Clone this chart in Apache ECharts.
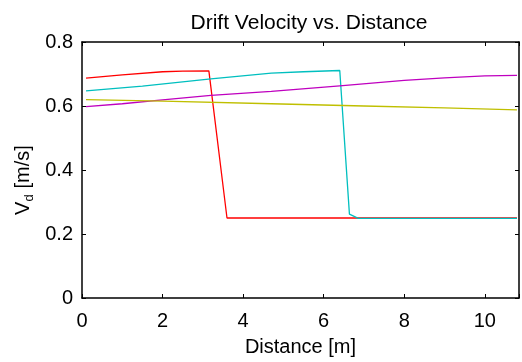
<!DOCTYPE html>
<html>
<head>
<meta charset="utf-8">
<script src="https://cdn.jsdelivr.net/npm/echarts@6/dist/echarts.min.js"></script>
<style>
  html, body { margin: 0; padding: 0; background: #fff; }
  #chart { width: 522px; height: 362px; }
</style>
</head>
<body>
<div id="chart"></div>
<script>
// 数据: [距离 m, 漂移速度 m/s]
var redData = [[0.1, 0.687], [1.0, 0.697], [2.0, 0.707], [2.5, 0.709], [3.15, 0.710], [3.6, 0.25], [6.9, 0.25], [10.8, 0.25]];
var cyanData = [[0.1, 0.647], [1.5, 0.662], [3.2, 0.685], [4.7, 0.703], [5.5, 0.707], [6.4, 0.711], [6.64, 0.262], [6.86, 0.249], [10.8, 0.249]];
var magentaData = [[0.1, 0.598], [1.0, 0.607], [2.0, 0.619], [3.2, 0.633], [4.7, 0.646], [6.4, 0.663], [8.0, 0.680], [9.0, 0.688], [10.0, 0.694], [10.8, 0.696]];
var yellowData = [[0.1, 0.620], [2.0, 0.615], [4.7, 0.607], [7.0, 0.600], [9.0, 0.594], [10.8, 0.588]];
var xTicks = [0, 2, 4, 6, 8, 10];
var yTicks = [0, 0.2, 0.4, 0.6, 0.8];

var myChart = echarts.init(document.getElementById('chart'), null, { renderer: 'canvas' });

var font = 'Liberation Sans, Arial, sans-serif';
var frameAxis = {
    show: true, onZero: false,
    lineStyle: { color: '#000', width: 1.5 }
};

var option = {
    backgroundColor: '#fff',
    animation: false,
    title: {
        text: 'Drift Velocity vs. Distance',
        left: 304, top: 8, textAlign: 'center',
        textStyle: { fontFamily: font, fontWeight: 'normal', fontSize: 21, color: '#000' }
    },
    grid: { left: 82, right: 1, top: 42, bottom: 63 },
    xAxis: [
        {
            type: 'value', min: 0, max: 10.85, interval: 2,
            axisLine: frameAxis,
            axisTick: { inside: true, length: 4, lineStyle: { color: '#000' } },
            axisLabel: {
                fontFamily: font, fontSize: 20, color: '#000', margin: 13,
                formatter: function (v) { return xTicks.indexOf(v) >= 0 ? String(v) : ''; }
            },
            splitLine: { show: false },
            name: 'Distance [m]', nameLocation: 'middle', nameGap: 39,
            nameTextStyle: { fontFamily: font, fontSize: 20, color: '#000' }
        },
        {
            type: 'value', min: 0, max: 10.85, interval: 2, position: 'top',
            axisLine: frameAxis,
            axisTick: { inside: true, length: 4, lineStyle: { color: '#000' } },
            axisLabel: { show: false },
            splitLine: { show: false }
        }
    ],
    yAxis: [
        {
            type: 'value', min: 0, max: 0.8, interval: 0.2,
            axisLine: frameAxis,
            axisTick: { inside: true, length: 4, lineStyle: { color: '#000' } },
            axisLabel: {
                fontFamily: font, fontSize: 20, color: '#000', margin: 9,
                formatter: function (v) {
                    for (var i = 0; i < yTicks.length; i++) {
                        if (Math.abs(v - yTicks[i]) < 1e-9) return String(yTicks[i]);
                    }
                    return '';
                }
            },
            splitLine: { show: false }
        },
        {
            type: 'value', min: 0, max: 0.8, interval: 0.2, position: 'right',
            axisLine: frameAxis,
            axisTick: { inside: true, length: 4, lineStyle: { color: '#000' } },
            axisLabel: { show: false },
            splitLine: { show: false }
        }
    ],
    // y轴标题 V_d [m/s]，带下标
    graphic: [
        {
            type: 'group', x: 23, y: 180, rotation: Math.PI / 2,
            children: [
                { type: 'text', x: -35, y: 0, style: { text: 'V', font: '20px ' + font, fill: '#000', align: 'left', verticalAlign: 'middle' } },
                { type: 'text', x: -21.5, y: 6, style: { text: 'd', font: '13px ' + font, fill: '#000', align: 'left', verticalAlign: 'middle' } },
                { type: 'text', x: -8.5, y: 0, style: { text: '[m/s]', font: '20px ' + font, fill: '#000', align: 'left', verticalAlign: 'middle' } }
            ]
        }
    ],
    series: [
        { name: 'red', type: 'line', data: redData, showSymbol: false, lineStyle: { color: '#ff0000', width: 1.3 }, itemStyle: { color: '#ff0000' } },
        { name: 'cyan', type: 'line', data: cyanData, showSymbol: false, lineStyle: { color: '#00bfbf', width: 1.3 }, itemStyle: { color: '#00bfbf' } },
        { name: 'magenta', type: 'line', data: magentaData, showSymbol: false, lineStyle: { color: '#bf00bf', width: 1.3 }, itemStyle: { color: '#bf00bf' } },
        { name: 'yellow', type: 'line', data: yellowData, showSymbol: false, lineStyle: { color: '#bfbf00', width: 1.3 }, itemStyle: { color: '#bfbf00' } }
    ]
};
myChart.setOption(option);
</script>
</body>
</html>
